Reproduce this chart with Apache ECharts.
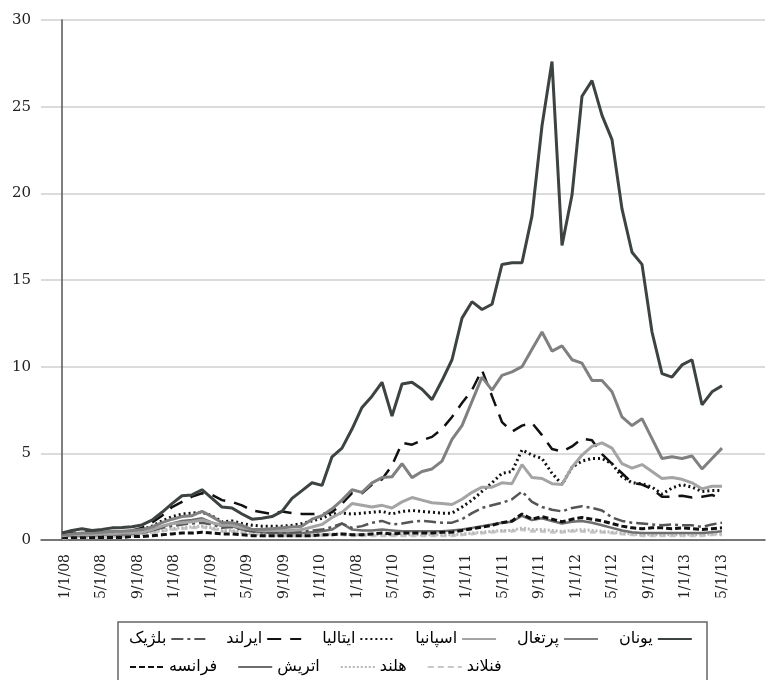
<!DOCTYPE html>
<html>
<head>
<meta charset="utf-8">
<script src="https://cdn.jsdelivr.net/npm/echarts@6/dist/echarts.min.js"></script>
<style>
  html, body { margin: 0; padding: 0; background: #fff; }
  #chart { width: 766px; height: 680px; }
</style>
</head>
<body>
<div id="chart"></div>
<script>
// monthly points, index 0..66
const tickLabels = ['1/1/08', '5/1/08', '9/1/08', '1/1/08', '1/1/09', '5/1/09', '9/1/09', '1/1/10', '1/1/08',
  '5/1/10', '9/1/10', '1/1/11', '5/1/11', '9/1/11', '1/1/12', '5/1/12', '9/1/12', '1/1/13', '5/1/13'];

const greece = [0.4, 0.55, 0.65, 0.55, 0.6, 0.7, 0.72, 0.77, 0.87, 1.15, 1.6, 2.1, 2.55, 2.6, 2.9, 2.4, 1.9, 1.85,
  1.5, 1.2, 1.25, 1.35, 1.65, 2.4, 2.85, 3.3, 3.15, 4.8, 5.3, 6.4, 7.65, 8.3, 9.1, 7.15, 9.0, 9.1, 8.7, 8.1, 9.2,
  10.4, 12.8, 13.75, 13.3, 13.6, 15.9, 16.0, 16.0, 18.7, 23.9, 27.6, 17.0, 19.9, 25.6, 26.5, 24.5, 23.1, 19.1,
  16.6, 15.9, 12.0, 9.6, 9.4, 10.1, 10.4, 7.8, 8.55, 8.9];
const portugal = [0.3, 0.35, 0.4, 0.4, 0.45, 0.5, 0.5, 0.55, 0.6, 0.75, 1.0, 1.2, 1.35, 1.4, 1.65, 1.35, 1.0, 1.0,
  0.85, 0.6, 0.6, 0.65, 0.7, 0.75, 0.8, 1.2, 1.4, 1.8, 2.3, 2.9, 2.75, 3.3, 3.6, 3.65, 4.4, 3.6, 3.95, 4.1, 4.55,
  5.8, 6.6, 8.0, 9.4, 8.65, 9.5, 9.7, 10.0, 11.0, 12.0, 10.9, 11.2, 10.4, 10.2, 9.2, 9.2, 8.55, 7.1, 6.6, 7.0,
  5.85, 4.7, 4.8, 4.7, 4.85, 4.1, 4.7, 5.3];
const spain = [0.25, 0.3, 0.3, 0.3, 0.35, 0.35, 0.4, 0.4, 0.45, 0.6, 0.8, 0.95, 1.0, 1.05, 1.15, 1.0, 0.85, 0.85,
  0.7, 0.6, 0.55, 0.55, 0.55, 0.55, 0.6, 0.75, 0.9, 1.3, 1.6, 2.1, 2.0, 1.9, 2.0, 1.85, 2.2, 2.45, 2.3, 2.15, 2.1,
  2.05, 2.35, 2.75, 3.05, 3.05, 3.3, 3.25, 4.35, 3.6, 3.55, 3.25, 3.2, 4.2, 4.9, 5.4, 5.6, 5.3, 4.4, 4.15, 4.35,
  3.95, 3.55, 3.6, 3.5, 3.3, 2.95, 3.1, 3.1];
const italy = [0.3, 0.3, 0.35, 0.35, 0.35, 0.4, 0.45, 0.5, 0.6, 0.8, 1.1, 1.35, 1.5, 1.55, 1.6, 1.4, 1.05, 1.1,
  0.95, 0.85, 0.8, 0.8, 0.8, 0.85, 0.95, 1.1, 1.25, 1.5, 1.55, 1.5, 1.55, 1.6, 1.65, 1.5, 1.65, 1.7, 1.65, 1.6,
  1.55, 1.55, 1.9, 2.3, 2.8, 3.3, 3.85, 3.95, 5.2, 4.9, 4.7, 3.85, 3.2, 4.2, 4.55, 4.7, 4.7, 4.4, 3.65, 3.3, 3.25,
  3.05, 2.65, 3.0, 3.2, 3.05, 2.8, 2.85, 2.85];
const ireland = [0.35, 0.4, 0.45, 0.45, 0.45, 0.5, 0.5, 0.55, 0.7, 1.0, 1.4, 1.9, 2.2, 2.5, 2.7, 2.6, 2.3, 2.2,
  2.0, 1.7, 1.6, 1.5, 1.65, 1.55, 1.5, 1.5, 1.5, 1.6, 2.1, 2.7, 2.7, 3.2, 3.5, 4.3, 5.6, 5.5, 5.75, 5.95, 6.4,
  7.1, 7.9, 8.65, 9.8, 8.3, 6.8, 6.25, 6.6, 6.75, 6.05, 5.25, 5.1, 5.4, 5.85, 5.75, 4.95, 4.4, 3.85, 3.3, 3.2,
  2.95, 2.5, 2.5, 2.55, 2.45, 2.5, 2.6, 2.35];
const belgium = [0.25, 0.3, 0.3, 0.3, 0.3, 0.35, 0.35, 0.4, 0.45, 0.55, 0.7, 0.8, 0.9, 0.95, 1.0, 0.9, 0.7, 0.75,
  0.6, 0.5, 0.45, 0.45, 0.45, 0.45, 0.5, 0.55, 0.6, 0.75, 0.95, 0.7, 0.8, 1.0, 1.1, 0.9, 0.95, 1.05, 1.1, 1.05,
  1.0, 1.0, 1.2, 1.55, 1.85, 2.0, 2.15, 2.35, 2.8, 2.2, 1.9, 1.75, 1.65, 1.85, 1.95, 1.85, 1.7, 1.3, 1.1, 1.0,
  0.95, 0.9, 0.85, 0.9, 0.85, 0.85, 0.75, 0.9, 1.0];
const france = [0.15, 0.15, 0.15, 0.15, 0.15, 0.15, 0.15, 0.2, 0.2, 0.25, 0.3, 0.35, 0.4, 0.4, 0.45, 0.4, 0.35,
  0.35, 0.3, 0.25, 0.25, 0.25, 0.25, 0.25, 0.25, 0.25, 0.3, 0.3, 0.35, 0.3, 0.3, 0.35, 0.4, 0.35, 0.4, 0.4, 0.4,
  0.4, 0.45, 0.45, 0.55, 0.65, 0.75, 0.85, 1.0, 1.1, 1.5, 1.2, 1.35, 1.2, 1.05, 1.2, 1.3, 1.2, 1.1, 0.95, 0.8,
  0.7, 0.65, 0.7, 0.7, 0.65, 0.7, 0.65, 0.6, 0.65, 0.7];
const austria = [0.2, 0.25, 0.25, 0.25, 0.3, 0.3, 0.3, 0.35, 0.4, 0.55, 0.75, 0.95, 1.1, 1.15, 1.25, 1.0, 0.8,
  0.8, 0.6, 0.5, 0.45, 0.4, 0.4, 0.4, 0.4, 0.45, 0.5, 0.6, 0.95, 0.6, 0.55, 0.55, 0.6, 0.55, 0.5, 0.5, 0.5, 0.5,
  0.5, 0.55, 0.6, 0.7, 0.8, 0.9, 1.0, 1.05, 1.4, 1.15, 1.25, 1.1, 0.95, 1.05, 1.1, 1.0, 0.85, 0.7, 0.55, 0.45,
  0.4, 0.4, 0.4, 0.4, 0.4, 0.4, 0.4, 0.45, 0.5];
const netherlands = [0.15, 0.2, 0.2, 0.2, 0.2, 0.25, 0.25, 0.3, 0.35, 0.45, 0.55, 0.65, 0.7, 0.75, 0.8, 0.7, 0.55,
  0.55, 0.45, 0.35, 0.3, 0.3, 0.3, 0.3, 0.3, 0.3, 0.3, 0.35, 0.35, 0.3, 0.3, 0.3, 0.3, 0.3, 0.3, 0.3, 0.3, 0.3,
  0.3, 0.3, 0.35, 0.4, 0.45, 0.5, 0.55, 0.55, 0.7, 0.6, 0.6, 0.55, 0.5, 0.55, 0.6, 0.55, 0.5, 0.45, 0.4, 0.35,
  0.3, 0.3, 0.3, 0.3, 0.3, 0.3, 0.3, 0.35, 0.35];
const finland = [0.1, 0.15, 0.15, 0.15, 0.15, 0.2, 0.2, 0.25, 0.3, 0.4, 0.5, 0.6, 0.65, 0.7, 0.75, 0.65, 0.5, 0.5,
  0.4, 0.3, 0.25, 0.25, 0.25, 0.25, 0.25, 0.25, 0.25, 0.3, 0.3, 0.25, 0.25, 0.25, 0.25, 0.25, 0.25, 0.25, 0.25,
  0.25, 0.25, 0.25, 0.3, 0.35, 0.4, 0.45, 0.5, 0.5, 0.6, 0.5, 0.5, 0.45, 0.45, 0.5, 0.5, 0.45, 0.45, 0.4, 0.35,
  0.3, 0.25, 0.25, 0.25, 0.25, 0.25, 0.25, 0.25, 0.3, 0.3];

const chart = echarts.init(document.getElementById('chart'));

function line(name, values, color, width, type) {
  return {
    name: name,
    type: 'line',
    symbol: 'none',
    data: values.map((v, i) => [i, v]),
    lineStyle: { color: color, width: width, type: type || 'solid' },
    itemStyle: { color: color }
  };
}

// label positions in point units (labels are spread evenly, not on month ticks)
const labelStart = 0.3;
const labelStep = 3.65;

const legendText = { fontFamily: 'DejaVu Sans', fontSize: 16, color: '#000' };

const option = {
  animation: false,
  backgroundColor: '#fff',
  grid: { left: 41, right: 1, top: 20, bottom: 140, outerBoundsMode: 'none' },
  xAxis: {
    type: 'value',
    min: -2.1,
    max: 70.3,
    splitLine: { show: false },
    axisLine: { lineStyle: { color: '#555', width: 1.5 } },
    axisTick: { show: false },
    axisLabel: {
      customValues: tickLabels.map((t, k) => labelStart + k * labelStep),
      rotate: 90,
      margin: 14,
      fontFamily: 'DejaVu Serif',
      fontSize: 14,
      color: '#222',
      formatter: v => tickLabels[Math.round((v - labelStart) / labelStep)]
    }
  },
  yAxis: {
    type: 'value',
    min: 0,
    max: 30,
    interval: 5,
    axisLine: { show: true, lineStyle: { color: '#555', width: 1.5 } },
    axisTick: { show: false },
    splitLine: { lineStyle: { color: '#cfcfcf', width: 1.5 } },
    axisLabel: { fontFamily: 'DejaVu Serif', fontSize: 15, color: '#222', margin: 10 }
  },
  legend: [
    {
      data: ['بلژیک', 'ایرلند', 'ایتالیا', 'اسپانیا', 'پرتغال', 'یونان'],
      left: 124, top: 626,
      align: 'right',
      itemWidth: 34, itemHeight: 10, itemGap: 20,
      itemStyle: { opacity: 0 },
      textStyle: legendText
    },
    {
      data: ['فرانسه', 'اتریش', 'هلند', 'فنلاند'],
      left: 124, top: 654,
      align: 'left',
      itemWidth: 34, itemHeight: 10, itemGap: 20,
      itemStyle: { opacity: 0 },
      textStyle: legendText
    }
  ],
  graphic: [{
    type: 'rect',
    shape: { x: 118, y: 622, width: 589, height: 70 },
    style: { fill: 'none', stroke: '#666', lineWidth: 1.5 }
  }],
  series: [
    line('فنلاند', finland, '#c8c8c8', 3, [6, 4]),
    line('هلند', netherlands, '#b8b8b8', 3, [2, 2]),
    line('اتریش', austria, '#6e6e6e', 2.5),
    line('فرانسه', france, '#111', 3, [6, 3]),
    line('بلژیک', belgium, '#555', 2.5, [12, 4, 3, 4]),
    line('ایرلند', ireland, '#111', 2.5, [14, 9]),
    line('ایتالیا', italy, '#111', 3, [2, 3]),
    line('اسپانیا', spain, '#a4a4a4', 3),
    line('پرتغال', portugal, '#808080', 3),
    line('یونان', greece, '#3d4242', 3)
  ]
};

chart.setOption(option);
window.addEventListener('resize', () => chart.resize());
</script>
</body>
</html>
